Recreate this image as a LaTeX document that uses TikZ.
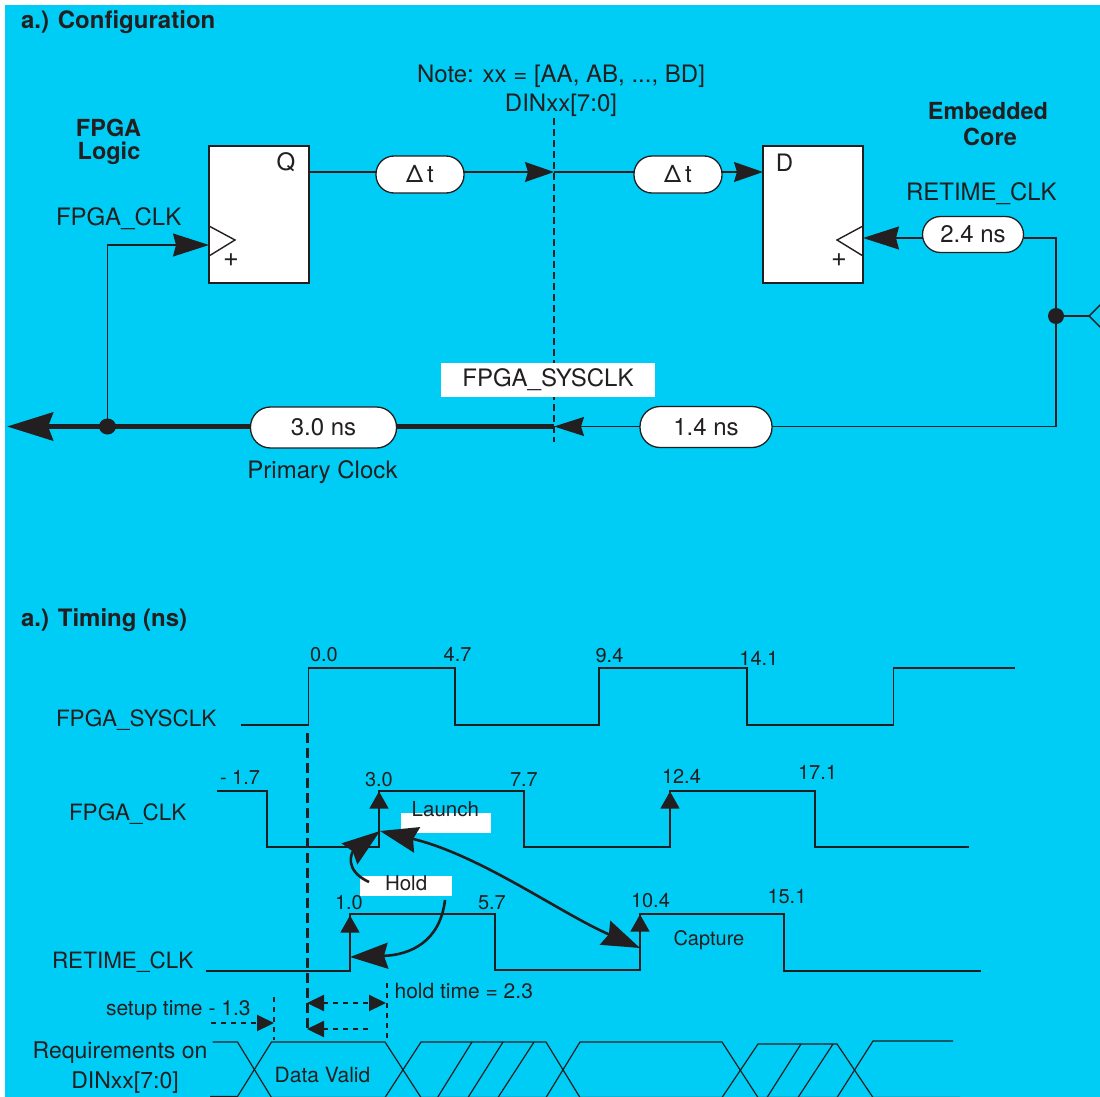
\documentclass[tikz,border=0pt]{standalone}
\usepackage{fontspec}
\setmainfont{TeX Gyre Heros}
\usetikzlibrary{arrows.meta}
\definecolor{bg}{RGB}{0,205,245}
\definecolor{ink}{RGB}{35,31,32}
\newcommand\fsz[1]{\fontsize{#1}{#1}\selectfont}
\tikzset{
  bigA/.tip={Stealth[length=36pt,width=23pt,inset=3pt]},
  midA/.tip={Stealth[length=29pt,width=20pt,inset=3pt]},
  midB/.tip={Stealth[length=30pt,width=19pt,inset=3pt]},
  thickA/.tip={Stealth[length=46pt,width=28pt,inset=5pt]},
  curvA/.tip={Stealth[length=38pt,width=26pt,inset=4pt]},
  edgeA/.tip={Triangle[length=17pt,width=19pt]},
  smallA/.tip={Triangle[length=17pt,width=16pt]},
}
\begin{document}
\begin{tikzpicture}[x=1pt,y=-1pt,
  every node/.style={inner sep=0pt, outer sep=0pt, text=ink},
  lbl/.style={font=\fsz{24}},
  boldt/.style={font=\bfseries\fsz{24}},
  boldh/.style={font=\bfseries\fsz{23.5}},
  tlbl/.style={font=\fsz{22.5}},
  num/.style={font=\fsz{20}},
  note/.style={font=\fsz{20.5}},
  small/.style={font=\fsz{21}},
  plus/.style={font=\fsz{27}},
  reg/.style={draw=ink, fill=white, line width=1.5pt, minimum width=100pt, minimum height=137pt},
  pill/.style={draw=ink, fill=white, line width=1.3pt, rounded corners=18pt, minimum height=37pt, font=\fsz{24}},
  wire/.style={draw=ink, line width=1.4pt},
  wave/.style={draw=ink, line width=1.3pt},
  curve/.style={draw=ink, line width=2.6pt},
  dashA/.style={draw=ink, line width=2.8pt, dash pattern=on 7pt off 4pt},
  dashB/.style={draw=ink, line width=2.6pt, dash pattern=on 10pt off 5pt},
  dashC/.style={draw=ink, line width=2.2pt, dash pattern=on 5pt off 5pt},
  wbox/.style={fill=white},
]
\useasboundingbox (0,0) rectangle (1100,1097);
\clip (0,0) rectangle (1100,1097);
\fill[white] (0,0) rectangle (1100,1097);
\fill[bg] (5,5) rectangle (1100,1097);

% ---------------- Configuration ----------------
\node[boldt, anchor=base west] (ttl1) at (21,29) {a.) Configuration};
\node[lbl, anchor=base] (note) at (561,83) {Note: xx = [AA, AB, ..., BD]};
\node[lbl, anchor=base] (din) at (561,112) {DINxx[7:0]};
\node[boldh, anchor=base] (fpga) at (108.5,136) {FPGA};
\node[boldh, anchor=base] (logic) at (109,159) {Logic};
\node[boldh, anchor=base] (emb) at (988,120) {Embedded};
\node[boldh, anchor=base] (core) at (990,146) {Core};
\node[lbl, anchor=base west] (fclk) at (56,225) {FPGA\_CLK};
\node[lbl, anchor=base west] (rclk) at (906,200) {RETIME\_CLK};

\node[reg] (qreg) at (259,214.5) {};
\node[reg] (dreg) at (813,214.5) {};
\node[lbl, anchor=base] (qlab) at (286,171) {Q};
\node[lbl, anchor=base] (dlab) at (784.5,171.5) {D};
\draw[wire] (209,226) -- (235,240) -- (209,256);
\draw[wire] (863,226) -- (837,240) -- (863,256);
\node[plus] (qp) at (231,260) {+};
\node[plus] (dp) at (839,260) {+};

\node[pill, minimum width=88pt] (dt1) at (420,174.5) {Δ\,t};
\node[pill, minimum width=88pt] (dt2) at (678,174.5) {Δ\,t};
\node[pill, minimum width=101pt, minimum height=36pt] (p24) at (973,234.5) {2.4 ns};
\node[pill, minimum width=132pt, minimum height=41pt, rounded corners=20pt] (p14) at (706,427) {1.4 ns};
\node[pill, minimum width=146pt, minimum height=41pt, rounded corners=20pt] (p30) at (323.5,427.5) {3.0 ns};

\coordinate (dtop) at (554,118);
\coordinate (dbot) at (554,442);
\draw[dashA] (dtop) -- (dbot);
\node[wbox, lbl, minimum width=214pt, minimum height=34pt] (sysbox) at (548,380) {FPGA\_SYSCLK};

\coordinate (qo) at (309,172);
\coordinate (dm) at (554,172);
\coordinate (di) at (763,172);
\draw[wire] (qo) -- (qo -| dt1.west);
\draw[wire, -{midA}] (qo -| dt1.east) -- (dm);
\draw[wire] (dm) -- (dm -| dt2.west);
\draw[wire, -{midA}] (dm -| dt2.east) -- (di);

\coordinate (dck) at (863,238);
\coordinate (rt) at (1056,238);
\coordinate (jr) at (1056,316);
\coordinate (rb) at (1056,426.5);
\coordinate (sc) at (554,426.5);
\coordinate (jl) at (107.5,426.5);
\coordinate (ft) at (107.5,245);
\coordinate (qck) at (209,245);
\coordinate (lt) at (7,426.5);
\coordinate (tri) at (1089,316);
\coordinate (triu) at (1107,298);
\coordinate (trid) at (1107,334);

\draw[wire, -{bigA}] (rt -| p24.west) -- (dck);
\draw[wire] (rt -| p24.east) -- (rt) -- (rb) -- (rb -| p14.east);
\fill[ink] (jr) circle (8pt);
\draw[wire] (jr) -- (tri);
\draw[wire] (triu) -- (tri) -- (trid);
\draw[wire, -{midB}] (sc -| p14.west) -- (sc);
\draw[draw=ink, line width=5.5pt] (sc) -- (sc -| p30.east);
\draw[draw=ink, line width=5.5pt, -{thickA}] (sc -| p30.west) -- (lt);
\fill[ink] (jl) ellipse (8.5pt and 8pt);
\draw[wire, -{bigA}] (jl) -- (ft) -- (qck);
\node[lbl, anchor=base] (prim) at (322.5,478) {Primary Clock};

% ---------------- Timing ----------------
\node[boldt, anchor=base west] (ttl2) at (21,626) {a.) Timing (ns)};

\node[tlbl, anchor=base west] (w1) at (56,726) {FPGA\_SYSCLK};
\node[tlbl, anchor=base west] (w2) at (69,820) {FPGA\_CLK};
\node[tlbl, anchor=base west] (w3) at (52,968) {RETIME\_CLK};

\draw[wave] (241,725) -- (308.7,725) -- (308.7,668) -- (455,668) -- (455,725) -- (599,725)
  -- (599,668) -- (747,668) -- (747,725) -- (893.7,725) -- (893.7,668) -- (1015,668);
\node[num, anchor=base west] (n00) at (310,661) {0.0};
\node[num, anchor=base west] (n47) at (443.7,661) {4.7};
\node[num, anchor=base west] (n94) at (595.6,662.7) {9.4};
\node[num, anchor=base west] (n141) at (739.4,665) {14.1};

\draw[wave] (217,791) -- (267,791) -- (267,847) -- (379,847) -- (379,791) -- (524,791) -- (524,847)
  -- (670,847) -- (670,791) -- (815,791) -- (815,847) -- (969,847);
\draw[wave, -{edgeA}] (379,815) -- (379,791.5);
\draw[wave, -{edgeA}] (670,815) -- (670,791.5);
\node[num, anchor=base west] (m17) at (220,784) {- 1.7};
\node[num, anchor=base west] (n30) at (365,786) {3.0};
\node[num, anchor=base west] (n77) at (510,786) {7.7};
\node[num, anchor=base west] (n124) at (662,783) {12.4};
\node[num, anchor=base west] (n171) at (798,779.3) {17.1};

\draw[wave] (206,971) -- (350,971) -- (350,914) -- (495,914) -- (495,970) -- (640,970) -- (640,914)
  -- (784,914) -- (784,971) -- (981,971);
\draw[wave, -{edgeA}] (350,938) -- (350,915.5);
\draw[wave, -{edgeA}] (640,938) -- (640,914.5);
\node[num, anchor=base west] (n10) at (335,909) {1.0};
\node[num, anchor=base west] (n57) at (478,909) {5.7};
\node[num, anchor=base west] (n104) at (631,907) {10.4};
\node[num, anchor=base west] (n151) at (767.5,903) {15.1};

\draw[dashB] (307.5,733) -- (307.5,1032);

% labels with white patches
\fill[white] (401,813) rectangle (491,833);
\node[note, anchor=base west] (launch) at (411.7,816) {Launch};
\fill[white] (360,876) rectangle (452,896);
\node[note, anchor=base west] (hold) at (385,890) {Hold};
\node[num, anchor=base west] (capt) at (673.5,945) {Capture};

\coordinate (launchpt) at (380,831);
\coordinate (capturept) at (640,948);
\coordinate (retpt) at (350,957);
\draw[curve, -{curvA}] (369,882) .. controls (343,870) and (352,852) .. (launchpt);
\draw[curve, -{curvA}] (445,900) .. controls (440,942) and (410,955) .. (retpt);
\draw[curve, {curvA}-{curvA}] (launchpt) .. controls (480,855) and (560,913) .. (capturept);

% setup / hold
\draw[dashC] (274.3,997) -- (274.3,1040);
\draw[dashC] (386.8,983) -- (386.8,1038);
\draw[dashC, -{smallA}] (211,1023) -- (274,1023);
\draw[dashC, {smallA}-{smallA}] (307,1003) -- (386,1003);
\draw[dashC, {smallA}-] (307,1029) -- (368,1029);
\node[small, anchor=base west] (setup) at (106,1015) {setup time - 1.3};
\node[small, anchor=base west] (holdt) at (394.6,998.3) {hold time = 2.3};

% data bus
\node[font=\fsz{23}, anchor=base] (req) at (120,1058) {Requirements on};
\node[font=\fsz{23}, anchor=base] (dinb) at (125,1088) {DINxx[7:0]};
\node[small, anchor=base] (dv) at (322.5,1082) {Data Valid};
\draw[wave, line width=1.2pt] (212.5,1042) -- (237.5,1042) -- (271.5,1097.5) -- (385,1097.5) -- (421,1042)
  -- (546,1042) -- (580,1097.5) -- (722,1097.5) -- (758,1044) -- (837,1044) -- (873,1097.5) -- (960,1097.5);
\draw[wave, line width=1.2pt] (210,1096.5) -- (237.5,1096.5) -- (271.5,1042) -- (385,1042) -- (421,1097.5)
  -- (546,1097.5) -- (580,1042) -- (722,1042) -- (758,1097.5) -- (837,1097.5) -- (873,1041) -- (953,1041);
\draw[wave, line width=1.2pt] (437.5,1097.5) -- (472,1042);
\draw[wave, line width=1.2pt] (468,1097.5) -- (503,1042);
\draw[wave, line width=1.2pt] (498,1097.5) -- (534,1042);
\draw[wave, line width=1.2pt] (767,1097.5) -- (801,1044);
\draw[wave, line width=1.2pt] (798,1097.5) -- (833,1044);
\end{tikzpicture}
\end{document}
